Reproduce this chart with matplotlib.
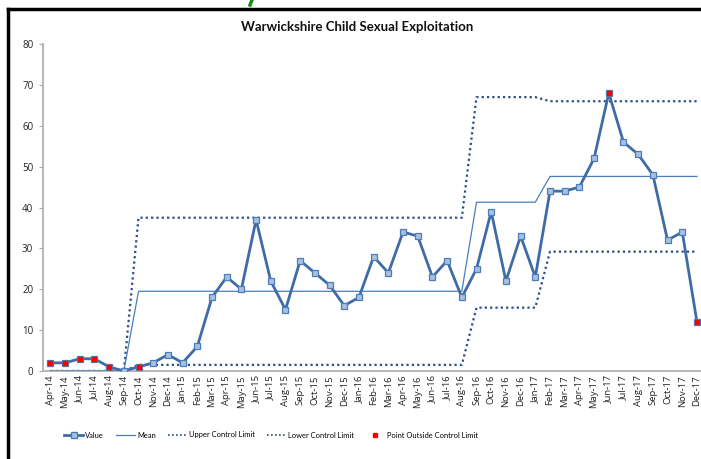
import matplotlib
matplotlib.use("Agg")
import matplotlib.pyplot as plt
from matplotlib.lines import Line2D
import numpy as np

months = ["Apr-14", "May-14", "Jun-14", "Jul-14", "Aug-14", "Sep-14", "Oct-14", "Nov-14", "Dec-14",
          "Jan-15", "Feb-15", "Mar-15", "Apr-15", "May-15", "Jun-15", "Jul-15", "Aug-15", "Sep-15",
          "Oct-15", "Nov-15", "Dec-15", "Jan-16", "Feb-16", "Mar-16", "Apr-16", "May-16", "Jun-16",
          "Jul-16", "Aug-16", "Sep-16", "Oct-16", "Nov-16", "Dec-16", "Jan-17", "Feb-17", "Mar-17",
          "Apr-17", "May-17", "Jun-17", "Jul-17", "Aug-17", "Sep-17", "Oct-17", "Nov-17", "Dec-17"]
value = [2, 2, 3, 3, 1, 0, 1, 2, 4, 2, 6, 18, 23, 20, 37, 22, 15, 27, 24, 21, 16, 18, 28, 24, 34, 33,
         23, 27, 18, 25, 39, 22, 33, 23, 44, 44, 45, 52, 68, 56, 53, 48, 32, 34, 12]
mean = [0] * 6 + [19.5] * 23 + [41.3] * 5 + [47.6] * 11
ucl = [0] * 6 + [37.5] * 23 + [67.0] * 5 + [66.0] * 11
lcl = [0] * 6 + [1.5] * 23 + [15.5] * 5 + [29.2] * 11
outside_idx = [0, 1, 2, 3, 4, 6, 38, 44]

fig = plt.figure(figsize=(7.01, 4.59), dpi=100)
W, H = 701, 459
ax = fig.add_axes([43 / W, (H - 371) / H, (704.3 - 43) / W, (371 - 44) / H])

x = np.arange(len(months))
dot = (0, (1, 1.4))
ax.plot(x, ucl, color="#2C4D85", lw=1.6, ls=dot, zorder=2)
ax.plot(x, lcl, color="#2C4D85", lw=1.6, ls=dot, zorder=2)
ax.plot(x, mean, color="#4A7EBB", lw=0.9, zorder=3)
ax.plot(x, value, color="#3F6CA6", lw=2.0, marker="s", ms=4.5, mfc="#A9C0DF", mec="#4A7EBB",
        mew=0.9, zorder=4)
ax.plot(x[outside_idx], np.array(value)[outside_idx], ls="none", marker="s", ms=3.5, color="#FF0000",
        mec="#FF0000", zorder=5)

ax.set_xlim(-0.5, len(months) - 0.5)
ax.set_ylim(0, 80)
ax.set_yticks(range(0, 81, 10))
ax.set_xticks(x)
ax.set_xticklabels(months, rotation=90, fontsize=6.8, color="#222222", family="Open Sans")
for t in ax.get_yticklabels():
    t.set_fontsize(7)
    t.set_color("#222222")
    t.set_family("Open Sans")
ax.tick_params(axis="y", length=3, color="#AAAAAA", pad=4)
ax.tick_params(axis="x", length=0, pad=3)
for s in ["top", "right"]:
    ax.spines[s].set_visible(False)
for s in ["left", "bottom"]:
    ax.spines[s].set_color("#B0B0B0")
    ax.spines[s].set_linewidth(1.3)

fig.text(357 / W, 1 - 27 / H, "Warwickshire Child Sexual Exploitation", ha="center", va="center",
         fontsize=9.5, fontweight="bold", family="Lato", color="#111111")

handles = [
    Line2D([], [], color="#3F6CA6", lw=2.0, marker="s", ms=4.5, mfc="#A9C0DF", mec="#4A7EBB"),
    Line2D([], [], color="#4A7EBB", lw=0.9),
    Line2D([], [], color="#2C4D85", lw=1.2, ls=dot),
    Line2D([], [], color="#2C4D85", lw=1.2, ls=dot),
    Line2D([], [], ls="none", marker="s", ms=3, color="#FF0000"),
]
labels = ["Value", "Mean", "Upper Control Limit", "Lower Control Limit", "Point Outside Control Limit"]
fig.legend(handles, labels, loc="center", bbox_to_anchor=(271 / W, 1 - 435 / H), ncol=5,
           frameon=False, prop={"family": "Lato", "size": 5.4}, handlelength=2.5,
           handletextpad=0.3, columnspacing=1.6)

# black frame pieces
fig.add_artist(Line2D([8 / W, 1], [1 - 9 / H, 1 - 9 / H], color="black", lw=2.5,
                      transform=fig.transFigure))
fig.add_artist(Line2D([8 / W, 8 / W], [0, 1 - 9 / H], color="black", lw=2.5,
                      transform=fig.transFigure))
fig.add_artist(Line2D([252 / W, 250 / W], [1, 1 - 5 / H], color="#1A8A1A", lw=2.5,
                      transform=fig.transFigure))

fig.savefig("out.png", dpi=100)
